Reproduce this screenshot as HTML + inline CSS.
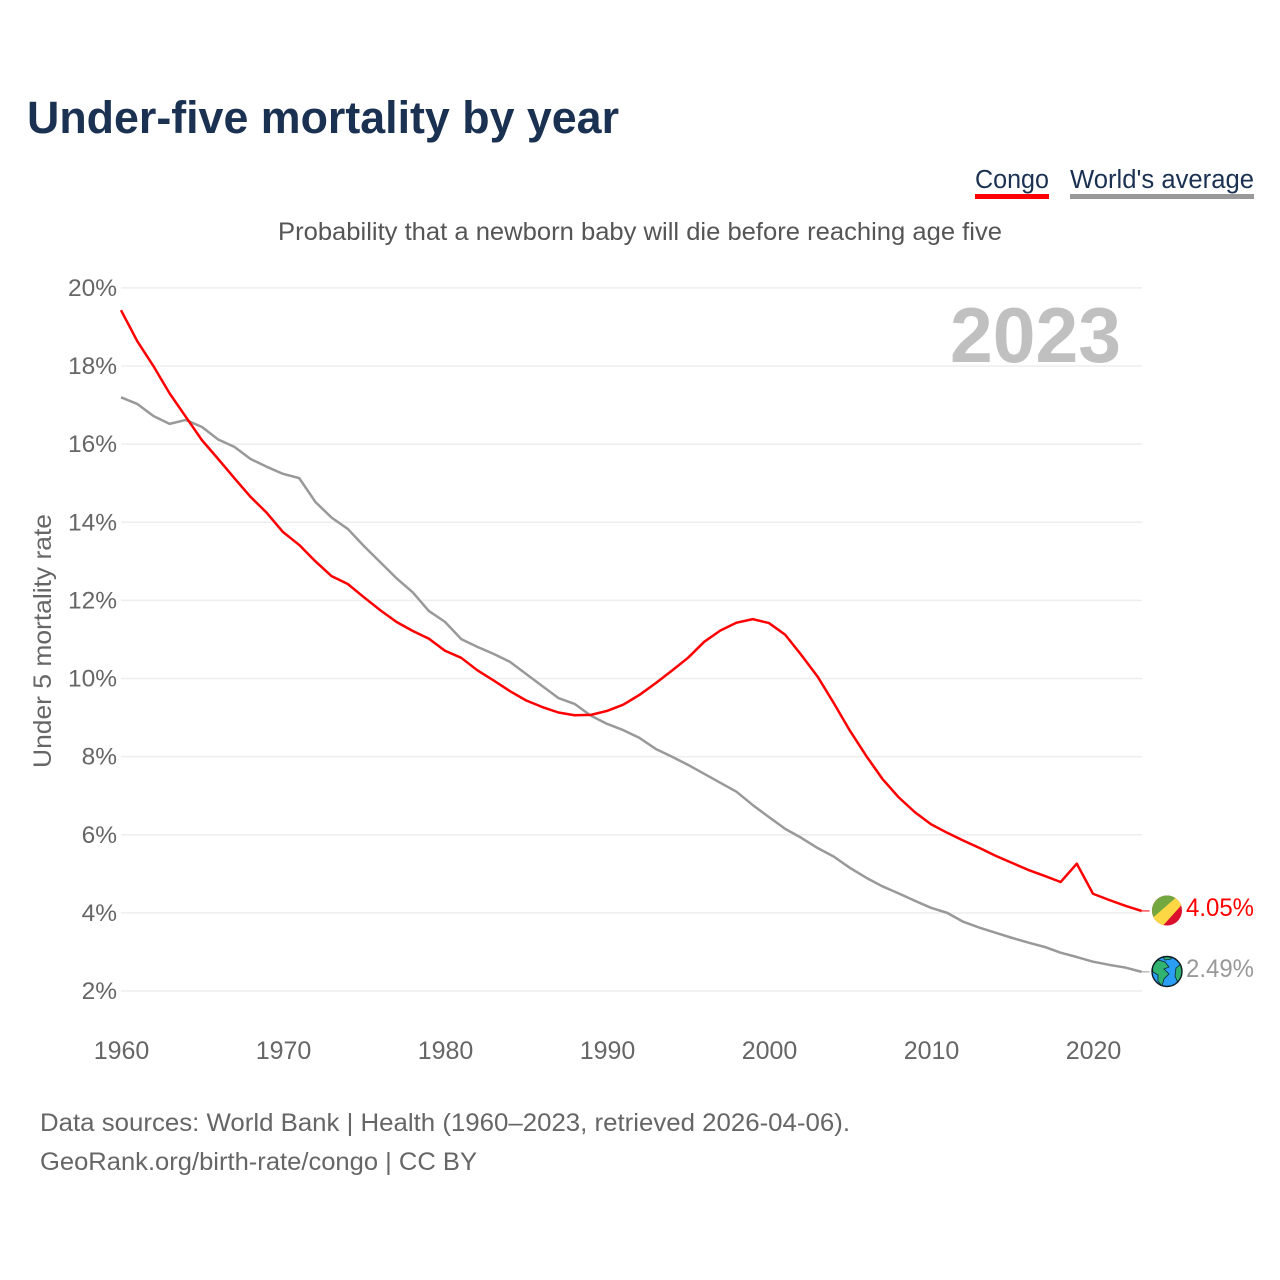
<!DOCTYPE html>
<html lang="en">
<head>
<meta charset="utf-8">
<title>Under-five mortality by year</title>
<style>
html,body{margin:0;padding:0;background:#fff;}
svg{display:block;}
text{font-family:"Liberation Sans",sans-serif;}
</style>
</head>
<body>
<svg id="chart" width="1280" height="1280" viewBox="0 0 1280 1280" xmlns="http://www.w3.org/2000/svg">
  <defs>
    <clipPath id="flag-clip"><circle cx="1167" cy="910.5" r="15"/></clipPath>
    <clipPath id="globe-clip"><circle cx="1167" cy="971.5" r="15"/></clipPath>
  </defs>
  <text x="27" y="133" font-size="45" font-weight="700" fill="#1a3152" textLength="592" lengthAdjust="spacingAndGlyphs">Under-five mortality by year</text>

  <g>
    <text x="975" y="188" font-size="25.5" fill="#1a3152" textLength="74" lengthAdjust="spacingAndGlyphs">Congo</text>
    <rect x="975" y="194" width="74" height="5" fill="#ff0000"/>
  </g>
  <g>
    <text x="1070" y="188" font-size="25.5" fill="#1a3152" textLength="184" lengthAdjust="spacingAndGlyphs">World's average</text>
    <rect x="1070" y="194" width="184" height="5" fill="#999999"/>
  </g>

  <text x="278" y="240" font-size="25" fill="#555555" textLength="724" lengthAdjust="spacingAndGlyphs">Probability that a newborn baby will die before reaching age five</text>

  <g id="grid"></g>
  <g id="y-labels"></g>
  <g id="x-labels"></g>

  <text x="950" y="362" font-size="78" font-weight="700" fill="#c0c0c0" textLength="171" lengthAdjust="spacingAndGlyphs">2023</text>

  <text transform="translate(51,768) rotate(-90)" x="0" y="0" font-size="25" fill="#666666" textLength="254" lengthAdjust="spacingAndGlyphs">Under 5 mortality rate</text>

  <g id="series"></g>

  <g>
    <g clip-path="url(#flag-clip)">
      <rect x="1150" y="893" width="34" height="36" fill="#dc0f2d"/>
      <polygon points="1150,929 1150,893 1186,893" fill="#73a840"/>
      <polygon points="1148,922 1180,894 1186,900 1160,929" fill="#fdd744"/>
    </g>
  </g>

  <g>
    <circle cx="1167" cy="971.5" r="15" fill="#2a9df4"/>
    <g clip-path="url(#globe-clip)" fill="#2fb36f" stroke="#0b2a33" stroke-width="0.8">
      <path d="M1152,966 L1158,960 L1165,962 L1169,967 L1164,969 L1169,974 L1164,979 L1162,986 L1158,981 L1158,975 L1153,972 Z"/>
      <path d="M1176,968 L1181,964 L1185,970 L1183,979 L1178,983 L1175,976 Z"/>
      <path d="M1161,954 L1172,954 L1171,959 L1165,960 Z"/>
    </g>
    <circle cx="1167" cy="971.5" r="15" fill="none" stroke="#0b1a22" stroke-width="1.4"/>
  </g>

  <text x="1186" y="916" font-size="25" fill="#ff0000" textLength="68" lengthAdjust="spacingAndGlyphs">4.05%</text>
  <text x="1186" y="977" font-size="25" fill="#999999" textLength="68" lengthAdjust="spacingAndGlyphs">2.49%</text>

  <text x="40" y="1131" font-size="25" fill="#666666" textLength="810" lengthAdjust="spacingAndGlyphs">Data sources: World Bank | Health (1960–2023, retrieved 2026-04-06).</text>
  <text x="40" y="1170" font-size="25" fill="#666666" textLength="437" lengthAdjust="spacingAndGlyphs">GeoRank.org/birth-rate/congo | CC BY</text>
</svg>
<script>
var startYear = 1960;
var congoValues = [19.43,18.64,18.0,17.3,16.7,16.1,15.62,15.13,14.65,14.24,13.75,13.42,13.0,12.62,12.42,12.08,11.75,11.45,11.22,11.02,10.71,10.53,10.21,9.95,9.68,9.44,9.27,9.13,9.06,9.07,9.17,9.33,9.58,9.88,10.2,10.53,10.94,11.23,11.43,11.52,11.42,11.12,10.6,10.05,9.37,8.66,8.02,7.43,6.96,6.58,6.27,6.05,5.85,5.66,5.46,5.28,5.1,4.95,4.79,5.26,4.49,4.33,4.18,4.05];
var worldValues = [17.2,17.03,16.72,16.52,16.62,16.44,16.12,15.93,15.62,15.42,15.24,15.13,14.52,14.12,13.83,13.39,12.98,12.57,12.21,11.73,11.45,11.01,10.81,10.63,10.43,10.12,9.81,9.5,9.35,9.05,8.84,8.68,8.48,8.2,8.0,7.79,7.56,7.33,7.1,6.76,6.45,6.15,5.92,5.66,5.44,5.15,4.9,4.68,4.5,4.31,4.13,4.0,3.77,3.62,3.49,3.36,3.24,3.13,2.98,2.87,2.75,2.67,2.6,2.49];
var yTicks = [2,4,6,8,10,12,14,16,18,20];
var yTickLabels = ["2%","4%","6%","8%","10%","12%","14%","16%","18%","20%"];
var xTicks = [1960,1970,1980,1990,2000,2010,2020];
var xTickLabels = ["1960","1970","1980","1990","2000","2010","2020"];

var SVG_NS = "http://www.w3.org/2000/svg";
function xScale(year){ return 121 + (year - 1960) * 16.2; }
function yScale(value){ return 991 - (value - 2) * 39.06; }
function make(tag, parent){
  var el = document.createElementNS(SVG_NS, tag);
  parent.appendChild(el);
  return el;
}

var gridGroup = document.getElementById("grid");
var yLabelGroup = document.getElementById("y-labels");
var xLabelGroup = document.getElementById("x-labels");
var seriesGroup = document.getElementById("series");

yTicks.forEach(function(tick, i){
  var line = make("line", gridGroup);
  
  
  line.setAttribute("x1", 121);
  line.setAttribute("x2", 1142);
  line.setAttribute("y1", yScale(tick));
  line.setAttribute("y2", yScale(tick));
  line.setAttribute("stroke", "#eeeeee");
  line.setAttribute("stroke-width", "1.5");

  var label = make("text", yLabelGroup);
  
  
  label.setAttribute("x", 117);
  label.setAttribute("y", yScale(tick) + 8);
  label.setAttribute("text-anchor", "end");
  label.setAttribute("font-size", "24.5");
  label.setAttribute("fill", "#666666");
  label.textContent = yTickLabels[i];
});

xTicks.forEach(function(tick, i){
  var label = make("text", xLabelGroup);
  
  
  label.setAttribute("x", xScale(tick) + 0.5);
  label.setAttribute("y", 1059);
  label.setAttribute("text-anchor", "middle");
  label.setAttribute("font-size", "25");
  label.setAttribute("fill", "#666666");
  label.textContent = xTickLabels[i];
});

function pointsFor(values){
  return values.map(function(v, i){
    return xScale(startYear + i).toFixed(2) + "," + yScale(v).toFixed(2);
  }).join(" ");
}

var worldLine = make("polyline", seriesGroup);


worldLine.setAttribute("points", pointsFor(worldValues));
worldLine.setAttribute("fill", "none");
worldLine.setAttribute("stroke", "#999999");
worldLine.setAttribute("stroke-width", "2.5");
worldLine.setAttribute("stroke-linejoin", "round");

var congoLine = make("polyline", seriesGroup);


congoLine.setAttribute("points", pointsFor(congoValues));
congoLine.setAttribute("fill", "none");
congoLine.setAttribute("stroke", "#ff0000");
congoLine.setAttribute("stroke-width", "2.5");
congoLine.setAttribute("stroke-linejoin", "round");

var worldLeader = make("line", seriesGroup);


worldLeader.setAttribute("x1", xScale(2023));
worldLeader.setAttribute("x2", xScale(2023) + 8);
worldLeader.setAttribute("y1", yScale(worldValues[worldValues.length - 1]));
worldLeader.setAttribute("y2", yScale(worldValues[worldValues.length - 1]));
worldLeader.setAttribute("stroke", "#999999");
worldLeader.setAttribute("stroke-width", "1");

var congoLeader = make("line", seriesGroup);


congoLeader.setAttribute("x1", xScale(2023));
congoLeader.setAttribute("x2", xScale(2023) + 8);
congoLeader.setAttribute("y1", yScale(congoValues[congoValues.length - 1]));
congoLeader.setAttribute("y2", yScale(congoValues[congoValues.length - 1]));
congoLeader.setAttribute("stroke", "#ff0000");
congoLeader.setAttribute("stroke-width", "1");
</script>
</body>
</html>
